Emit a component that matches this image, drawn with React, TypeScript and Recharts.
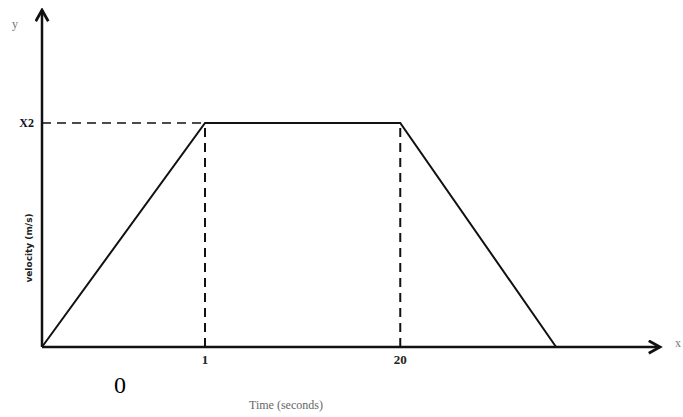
import { LineChart, Line, XAxis, YAxis, ReferenceLine } from "recharts";

// schematic velocity-time graph (x in arbitrary time units, y relative to top speed)
const times = [0, 9.1, 20, 28.7];
const velocity = [0, 1, 1, 0];
const xTicks = [9.1, 20];
const xTickLabels = ["1", "20"];
const yTicks = [1];
const yTickLabels = ["X2"];

const data = times.map((t, i) => ({ t, v: velocity[i] }));

const serif = "'Liberation Serif', 'DejaVu Serif', serif";

export default function App() {
  return (
    <div style={{ position: "absolute", left: 0, top: 0, width: 683, height: 417, background: "#fff" }}>
      <LineChart width={683} height={417} data={data} margin={{ top: 10, right: 23, left: 0, bottom: 40 }}>
        <defs>
          <marker id="arrow" viewBox="0 0 12 12" refX="10" refY="6" markerWidth="6" markerHeight="6" orient="auto-start-reverse">
            <path d="M1,1 L10,6 L1,11" fill="none" stroke="#111" strokeWidth="2.2" />
          </marker>
        </defs>
        <XAxis
          type="number"
          dataKey="t"
          domain={[0, 34.5]}
          ticks={xTicks}
          tickFormatter={(v: number) => xTickLabels[xTicks.indexOf(v)] ?? ""}
          tickLine={false}
          axisLine={{ stroke: "#111", strokeWidth: 2.5, markerEnd: "url(#arrow)" }}
          tick={{ fill: "#222", fontSize: 13, fontFamily: serif, fontWeight: "bold" }}
          height={30}
        />
        <YAxis
          type="number"
          domain={[0, 1.504]}
          ticks={yTicks}
          tickFormatter={(v: number) => yTickLabels[yTicks.indexOf(v)] ?? ""}
          tickLine={false}
          axisLine={{ stroke: "#111", strokeWidth: 2.5, markerStart: "url(#arrow)" }}
          tick={{ fill: "#112", fontSize: 12, fontFamily: serif, fontWeight: "bold" }}
          width={42}
        />
        <ReferenceLine segment={[{ x: 0, y: 1 }, { x: times[1], y: 1 }]} stroke="#111" strokeWidth={1.5} strokeDasharray="9 6" />
        <ReferenceLine segment={[{ x: times[1], y: 0 }, { x: times[1], y: 1 }]} stroke="#111" strokeWidth={2} strokeDasharray="9 6" />
        <ReferenceLine segment={[{ x: times[2], y: 0 }, { x: times[2], y: 1 }]} stroke="#111" strokeWidth={2} strokeDasharray="9 6" />
        <Line type="linear" dataKey="v" stroke="#111" strokeWidth={2} dot={false} isAnimationActive={false} />
      </LineChart>
      <svg width={683} height={417} style={{ position: "absolute", left: 0, top: 0, pointerEvents: "none" }}>
        <text x={12} y={28} fontFamily={serif} fontSize={12} fill="#777">y</text>
        <text x={675} y={347} fontFamily={serif} fontSize={12} fill="#777">x</text>
        <text x={120} y={393} textAnchor="middle" fontFamily={serif} fontSize={24} fill="#000">0</text>
        <text x={286} y={409} textAnchor="middle" fontFamily={serif} fontSize={12} fill="#666">Time (seconds)</text>
        <text x={32} y={248} textAnchor="middle" fontFamily="'DejaVu Sans', sans-serif" fontSize={9} fontWeight="bold" fill="#222" transform="rotate(-90 32 248)">velocity (m/s)</text>
      </svg>
    </div>
  );
}
